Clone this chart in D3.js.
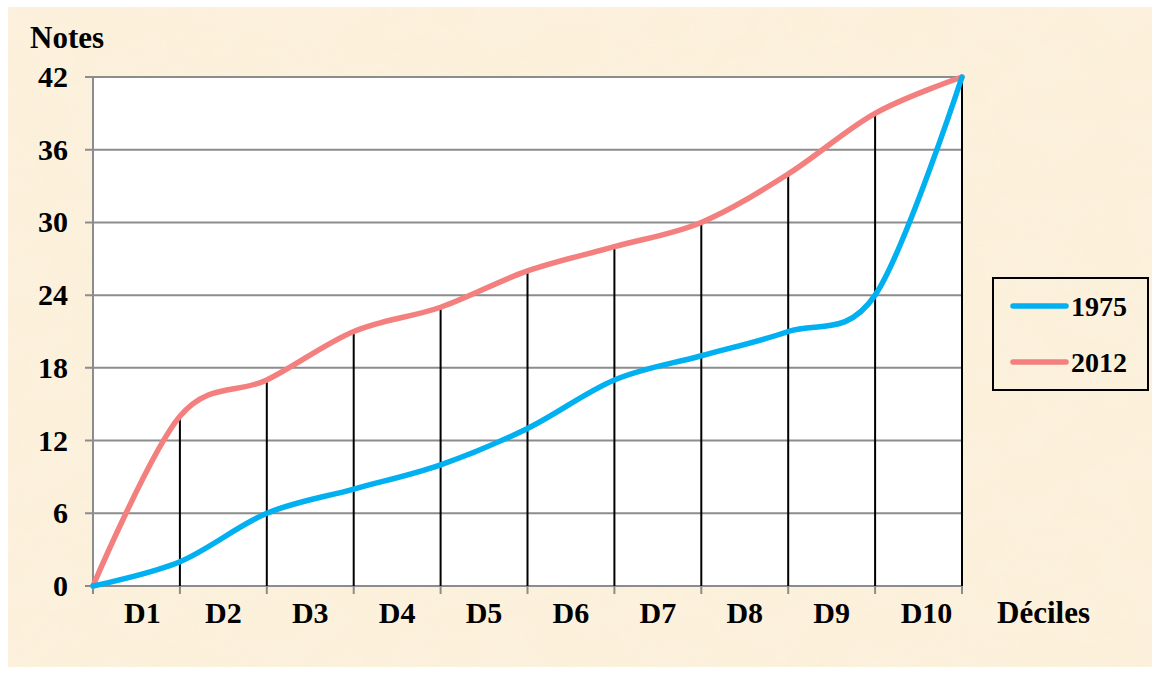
<!DOCTYPE html>
<html>
<head>
<meta charset="utf-8">
<script src="https://cdn.jsdelivr.net/npm/d3@7"></script>
<style>
  body { margin: 0; background: #fff; }
  text { font-family: "Liberation Serif", "Times New Roman", serif; font-weight: bold; fill: #000; }
</style>
</head>
<body>
<div id="my_dataviz"></div>
<script>
// data
var deciles = ["D1", "D2", "D3", "D4", "D5", "D6", "D7", "D8", "D9", "D10"];
var yTicks = [0, 6, 12, 18, 24, 30, 36, 42];
var notes1975 = [0, 2, 6, 8, 10, 13, 17, 19, 21, 24, 42];
var notes2012 = [0, 14, 17, 21, 23, 26, 28, 30, 34, 39, 42];
var seriesNames = ["1975", "2012"];

var width = 1160, height = 673;

var svg = d3.select("#my_dataviz")
    .append("svg")
    .attr("width", width)
    .attr("height", height);

// parchment background
var defs = svg.append("defs");
var f = defs.append("filter").attr("id", "paper")
    .attr("x", 0).attr("y", 0).attr("width", "100%").attr("height", "100%");
f.append("feTurbulence").attr("type", "fractalNoise")
    .attr("baseFrequency", "0.015 0.025").attr("numOctaves", 3).attr("seed", 7);
f.append("feColorMatrix").attr("type", "matrix")
    .attr("values", "0 0 0 0 0.95  0 0 0 0 0.85  0 0 0 0 0.68  0 0 0 1.1 -0.35");

svg.append("rect")
    .attr("x", 8).attr("y", 7).attr("width", 1144).attr("height", 660)
    .attr("fill", "#fcf1dc");
svg.append("rect")
    .attr("x", 8).attr("y", 7).attr("width", 1144).attr("height", 660)
    .attr("filter", "url(#paper)")
    .attr("opacity", 0.6);

// scales
var x = d3.scaleLinear().domain([0, 10]).range([93, 962]);
var y = d3.scaleLinear().domain([0, 42]).range([586, 77]);

// white plot area
svg.append("rect")
    .attr("x", x(0)).attr("y", y(42))
    .attr("width", x(10) - x(0)).attr("height", y(0) - y(42))
    .attr("fill", "#fff");

// horizontal gridlines + y ticks
svg.append("g").selectAll("line")
    .data(yTicks)
    .enter().append("line")
    .attr("x1", x(0) - 8).attr("x2", x(10))
    .attr("y1", function (d) { return y(d); })
    .attr("y2", function (d) { return y(d); })
    .attr("stroke", "#8c8c8c")
    .attr("stroke-width", 2);

svg.append("g").selectAll("text")
    .data(yTicks)
    .enter().append("text")
    .attr("x", 68)
    .attr("y", function (d) { return y(d) + 10; })
    .attr("text-anchor", "end")
    .style("font-size", "30px")
    .text(function (d) { return d; });

// left axis
svg.append("line")
    .attr("x1", x(0)).attr("x2", x(0))
    .attr("y1", y(42)).attr("y2", y(0) + 8)
    .attr("stroke", "#8c8c8c").attr("stroke-width", 2);

// bottom ticks
svg.append("g").selectAll("line")
    .data(d3.range(0, 11))
    .enter().append("line")
    .attr("x1", function (d) { return x(d); })
    .attr("x2", function (d) { return x(d); })
    .attr("y1", y(0)).attr("y2", y(0) + 8)
    .attr("stroke", "#8c8c8c").attr("stroke-width", 2);

// drop lines from the 2012 curve
svg.append("g").selectAll("line")
    .data(notes2012.slice(1))
    .enter().append("line")
    .attr("x1", function (d, i) { return x(i + 1); })
    .attr("x2", function (d, i) { return x(i + 1); })
    .attr("y1", function (d) { return y(d); })
    .attr("y2", y(0))
    .attr("stroke", "#000")
    .attr("stroke-width", 2);

// decile labels
svg.append("g").selectAll("text")
    .data(deciles)
    .enter().append("text")
    .attr("x", function (d, i) { return (x(i) + x(i + 1)) / 2 + (i === 0 ? 6 : i === 9 ? 8 : 0); })
    .attr("y", 623)
    .attr("text-anchor", "middle")
    .style("font-size", "30px")
    .text(function (d) { return d; });

svg.append("text").attr("x", 997).attr("y", 623)
    .style("font-size", "31px").text("Déciles");
svg.append("text").attr("x", 30).attr("y", 48)
    .style("font-size", "31px").text("Notes");

// curves
var color = d3.scaleOrdinal().domain(seriesNames).range(["#00b0f0", "#f47f7f"]);
var line = d3.line()
    .x(function (d, i) { return x(i); })
    .y(function (d) { return y(d); })
    .curve(d3.curveCatmullRom.alpha(0));

[[seriesNames[1], notes2012], [seriesNames[0], notes1975]].forEach(function (s) {
    svg.append("path")
        .datum(s[1])
        .attr("fill", "none")
        .attr("stroke", color(s[0]))
        .attr("stroke-width", 5.5)
        .attr("stroke-linecap", "round")
        .attr("d", line);
});

// legend
var lg = svg.append("g");
lg.append("rect")
    .attr("x", 993).attr("y", 278).attr("width", 155).attr("height", 112)
    .attr("fill", "none").attr("stroke", "#000").attr("stroke-width", 2);
seriesNames.forEach(function (n, i) {
    var ly = 306 + i * 56;
    lg.append("line")
        .attr("x1", 1013).attr("x2", 1066)
        .attr("y1", ly).attr("y2", ly)
        .attr("stroke", color(n)).attr("stroke-width", 5.5)
        .attr("stroke-linecap", "round");
    lg.append("text")
        .attr("x", 1071).attr("y", ly + 10)
        .style("font-size", "28px")
        .text(n);
});
</script>
</body>
</html>
